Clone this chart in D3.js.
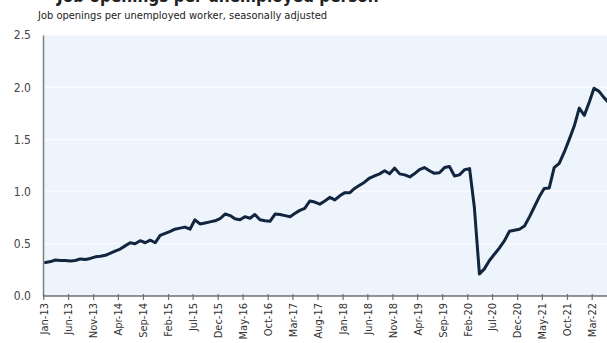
<!DOCTYPE html>
<html>
<head>
<meta charset="utf-8">
<script src="https://cdn.jsdelivr.net/npm/d3@7"></script>
<style>
  body { margin: 0; background: #fff; }
  svg { display: block; }
</style>
</head>
<body>
<svg id="chart" width="607" height="343"></svg>
<script>
// monthly ratio, Jan-13 .. Jun-22
const ratio2013 = [0.32, 0.33, 0.345, 0.34, 0.34, 0.335, 0.34, 0.355, 0.35, 0.36, 0.375, 0.38];
const ratio2014 = [0.39, 0.41, 0.43, 0.45, 0.48, 0.51, 0.50, 0.53, 0.51, 0.535, 0.51, 0.58];
const ratio2015 = [0.60, 0.62, 0.64, 0.65, 0.66, 0.64, 0.73, 0.69, 0.70, 0.71, 0.72, 0.74];
const ratio2016 = [0.785, 0.77, 0.74, 0.73, 0.76, 0.745, 0.78, 0.73, 0.72, 0.715, 0.785, 0.78];
const ratio2017 = [0.77, 0.76, 0.79, 0.82, 0.84, 0.91, 0.90, 0.88, 0.91, 0.945, 0.92, 0.96];
const ratio2018 = [0.99, 0.99, 1.03, 1.06, 1.09, 1.13, 1.15, 1.17, 1.20, 1.17, 1.225, 1.17];
const ratio2019 = [1.16, 1.14, 1.17, 1.21, 1.23, 1.20, 1.175, 1.18, 1.23, 1.24, 1.15, 1.16];
const ratio2020 = [1.21, 1.22, 0.85, 0.21, 0.26, 0.34, 0.40, 0.46, 0.53, 0.62, 0.63, 0.64];
const ratio2021 = [0.67, 0.76, 0.85, 0.95, 1.03, 1.035, 1.23, 1.27, 1.38, 1.50, 1.63, 1.80];
const ratio2022 = [1.73, 1.86, 1.99, 1.96, 1.90, 1.85];

const xTickLabels = ['Jan-13', 'Jun-13', 'Nov-13', 'Apr-14', 'Sep-14', 'Feb-15', 'Jul-15', 'Dec-15',
  'May-16', 'Oct-16', 'Mar-17', 'Aug-17', 'Jan-18', 'Jun-18', 'Nov-18', 'Apr-19', 'Sep-19',
  'Feb-20', 'Jul-20', 'Dec-20', 'May-21', 'Oct-21', 'Mar-22'];
const yTicks = [0, 0.5, 1.0, 1.5, 2.0, 2.5];

const title = 'Job openings per unemployed person';
const subtitle = 'Job openings per unemployed worker, seasonally adjusted';

const values = [].concat(ratio2013, ratio2014, ratio2015, ratio2016, ratio2017,
  ratio2018, ratio2019, ratio2020, ratio2021, ratio2022);
// points sit mid-month
const data = values.map((v, i) => ({ date: new Date(2013, i, 15), value: v }));

const parseTick = d3.timeParse('%b-%y');
const tickDates = xTickLabels.map(parseTick);

const plot = { left: 43, top: 35, right: 607, bottom: 296 };
const FONT = '"DejaVu Sans Condensed", "DejaVu Sans", sans-serif';

const svg = d3.select('#chart');

const x = d3.scaleTime()
  .domain([tickDates[0], tickDates[tickDates.length - 1]])
  .range([43.3, 591.7]);
const y = d3.scaleLinear().domain([0, 2.5]).range([plot.bottom, plot.top]);

// plot background
svg.append('rect')
  .attr('x', plot.left)
  .attr('y', plot.top)
  .attr('width', plot.right - plot.left)
  .attr('height', plot.bottom - plot.top)
  .attr('fill', '#edf4fb');

// gridlines
svg.append('g')
  .selectAll('line')
  .data(yTicks.slice(1))
  .join('line')
  .attr('x1', plot.left)
  .attr('x2', plot.right)
  .attr('y1', (d) => y(d))
  .attr('y2', (d) => y(d))
  .attr('stroke', '#f9fbfe')
  .attr('stroke-width', 1.5);

// title, only its lower edge shows at the top of the picture
svg.append('text')
  .attr('x', 57)
  .attr('y', 2)
  .style('font', `bold 17px ${FONT}`)
  .attr('fill', '#222')
  .text(title);

svg.append('text')
  .attr('x', 38)
  .attr('y', 19)
  .style('font', `11px ${FONT}`)
  .attr('fill', '#222')
  .text(subtitle);

// y axis
const yAxis = svg.append('g')
  .attr('transform', `translate(${plot.left}, 0)`)
  .call(d3.axisLeft(y).tickValues(yTicks).tickFormat(d3.format('.1f')).tickSize(0).tickPadding(12));
yAxis.select('.domain').attr('stroke', '#808080').attr('stroke-width', 1.5);
yAxis.selectAll('text')
  .style('font', `12px ${FONT}`)
  .attr('fill', '#444');

// x axis
const xAxis = svg.append('g')
  .attr('transform', `translate(0, ${plot.bottom})`)
  .call(d3.axisBottom(x).tickValues(tickDates).tickFormat((d, i) => xTickLabels[i]).tickSizeInner(4).tickSizeOuter(0));
xAxis.select('.domain').attr('stroke', '#707070').attr('stroke-width', 1.5)
  .attr('d', `M${plot.left},0H${plot.right}`);
xAxis.selectAll('.tick line').attr('stroke', '#707070').attr('stroke-width', 1.2).attr('y1', -2);
xAxis.selectAll('text')
  .style('font', `11px ${FONT}`)
  .attr('fill', '#333')
  .attr('text-anchor', 'end')
  .attr('transform', 'rotate(-90)')
  .attr('x', -7)
  .attr('y', 0)
  .attr('dy', '0.35em');

// line
const line = d3.line()
  .x((d) => x(d.date))
  .y((d) => y(d.value));

svg.append('path')
  .datum(data)
  .attr('d', line)
  .attr('fill', 'none')
  .attr('stroke', '#11253f')
  .attr('stroke-width', 3)
  .attr('stroke-linejoin', 'round')
  .attr('stroke-linecap', 'round');
</script>
</body>
</html>
